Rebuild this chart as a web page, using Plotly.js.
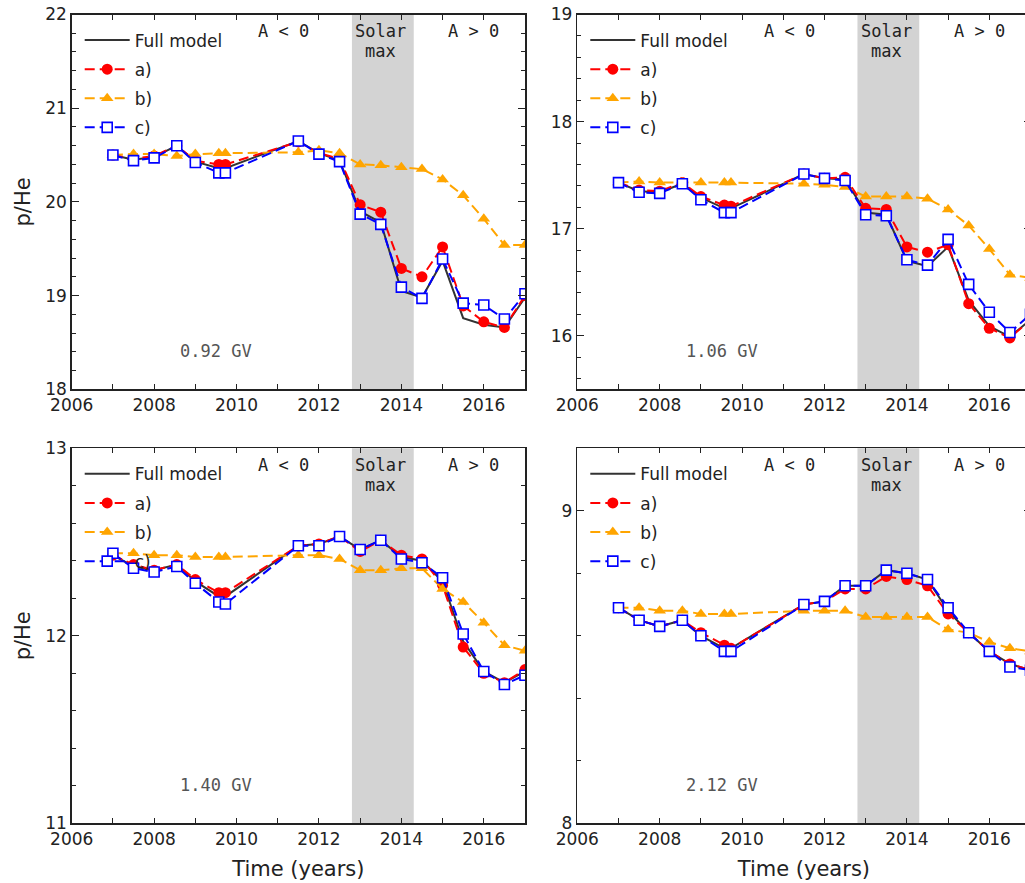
<!DOCTYPE html>
<html><head><meta charset="utf-8">
<script src="https://cdn.plot.ly/plotly-3.0.1.min.js"></script>
<style>html,body{margin:0;padding:0;overflow:hidden;background:#fff;width:1025px;height:883px}#chart{width:1040px;height:883px}</style>
</head><body><div id="chart"></div>
<script>
// ---- data ----
const years = [2007, 2007.5, 2008, 2008.55, 2009, 2009.57, 2009.73, 2011.5, 2012, 2012.5, 2013, 2013.5, 2014, 2014.5, 2015, 2015.5, 2016, 2016.5, 2017];
const seriesNames = ["Full model", "a)", "b)", "c)"];
const rigidityLabels = ["0.92 GV", "1.06 GV", "1.40 GV", "2.12 GV"];

// 0.92 GV
const full1 = [20.50, 20.45, 20.48, 20.60, 20.43, 20.36, 20.36, 20.65, 20.52, 20.44, 19.90, 19.78, 19.05, 18.98, 19.37, 18.76, 18.69, 18.66, 18.98];
const a1    = [20.50, 20.46, 20.49, 20.60, 20.44, 20.40, 20.40, 20.64, 20.52, 20.46, 19.97, 19.89, 19.29, 19.20, 19.52, 18.89, 18.72, 18.66, 19.00];
const b1    = [20.50, 20.51, 20.51, 20.49, 20.51, 20.52, 20.52, 20.53, 20.55, 20.52, 20.40, 20.39, 20.37, 20.35, 20.24, 20.07, 19.82, 19.54, 19.54];
const c1    = [20.50, 20.44, 20.47, 20.60, 20.42, 20.31, 20.31, 20.65, 20.51, 20.43, 19.87, 19.76, 19.09, 18.97, 19.39, 18.92, 18.90, 18.75, 19.02];
// 1.06 GV
const full2 = [17.43, 17.35, 17.34, 17.42, 17.29, 17.19, 17.19, 17.51, 17.47, 17.46, 17.15, 17.13, 16.70, 16.65, 16.83, 16.33, 16.09, 15.99, 16.15];
const a2    = [17.43, 17.36, 17.35, 17.43, 17.30, 17.22, 17.21, 17.51, 17.47, 17.48, 17.19, 17.18, 16.83, 16.78, 16.85, 16.30, 16.07, 15.98, 16.15];
const b2    = [17.43, 17.44, 17.43, 17.43, 17.43, 17.43, 17.43, 17.42, 17.41, 17.39, 17.30, 17.30, 17.30, 17.28, 17.18, 17.03, 16.81, 16.57, 16.54];
const c2    = [17.43, 17.34, 17.33, 17.42, 17.27, 17.15, 17.15, 17.51, 17.47, 17.45, 17.13, 17.12, 16.71, 16.66, 16.90, 16.48, 16.22, 16.03, 16.20];
// 1.40 GV
const full3 = [12.43, 12.37, 12.35, 12.38, 12.29, 12.21, 12.21, 12.48, 12.49, 12.53, 12.46, 12.51, 12.42, 12.40, 12.29, 11.97, 11.81, 11.75, 11.81];
const a3    = [12.43, 12.38, 12.35, 12.38, 12.30, 12.23, 12.23, 12.48, 12.49, 12.53, 12.45, 12.51, 12.43, 12.41, 12.27, 11.94, 11.80, 11.75, 11.82];
const b3    = [12.44, 12.44, 12.43, 12.43, 12.42, 12.42, 12.42, 12.43, 12.43, 12.41, 12.35, 12.35, 12.36, 12.36, 12.25, 12.18, 12.07, 11.95, 11.92];
const c3    = [12.44, 12.36, 12.34, 12.37, 12.28, 12.18, 12.17, 12.48, 12.48, 12.53, 12.46, 12.51, 12.41, 12.39, 12.31, 12.01, 11.81, 11.74, 11.79];
// 2.12 GV
const full4 = [8.69, 8.65, 8.63, 8.65, 8.60, 8.56, 8.56, 8.70, 8.71, 8.76, 8.76, 8.81, 8.80, 8.78, 8.68, 8.61, 8.55, 8.51, 8.49];
const a4    = [8.69, 8.65, 8.63, 8.65, 8.61, 8.57, 8.56, 8.70, 8.71, 8.75, 8.75, 8.79, 8.78, 8.76, 8.67, 8.61, 8.55, 8.51, 8.49];
const b4    = [8.69, 8.69, 8.68, 8.68, 8.67, 8.67, 8.67, 8.68, 8.68, 8.68, 8.66, 8.66, 8.66, 8.66, 8.62, 8.61, 8.58, 8.56, 8.55];
const c4    = [8.69, 8.65, 8.63, 8.65, 8.60, 8.55, 8.55, 8.70, 8.71, 8.76, 8.76, 8.81, 8.80, 8.78, 8.69, 8.61, 8.55, 8.50, 8.49];

const panelData = [[full1, a1, b1, c1], [full2, a2, b2, c2], [full3, a3, b3, c3], [full4, a4, b4, c4]];
const yRanges = [[18, 22], [15.5, 19], [11, 13], [8, 9.2]];
const solarMax = [2012.8, 2014.3];

// ---- layout geometry (pixels) ----
const W = 1040, H = 883;
const colX = [[71.7, 525], [577.3, 1030.5]];
const rowY = [[14.5, 389.3], [448.3, 823.3]];

const dashPat = '10px,5px';
const styles = [
  {mode: 'lines', line: {color: '#333333', width: 2}},
  {mode: 'lines+markers', line: {color: '#ff0000', width: 2, dash: dashPat}, marker: {symbol: 'circle', size: 11, color: '#ff0000'}},
  {mode: 'lines+markers', line: {color: '#ffa500', width: 2, dash: dashPat}, marker: {symbol: 'triangle-up', size: 11, color: '#ffa500'}},
  {mode: 'lines+markers', line: {color: '#0000ff', width: 2, dash: dashPat}, marker: {symbol: 'square', size: 10, color: '#ffffff', line: {color: '#0000ff', width: 1.6}}}
];

const traces = [];
const layout = {
  width: W, height: H, margin: {l: 0, r: 0, t: 0, b: 0},
  paper_bgcolor: '#ffffff', plot_bgcolor: 'rgba(0,0,0,0)',
  font: {family: 'DejaVu Sans', size: 17, color: '#222'},
  showlegend: true, shapes: [], annotations: []
};

for (let p = 0; p < 4; p++) {
  const col = p % 2, row = Math.floor(p / 2);
  const sfx = p === 0 ? '' : String(p + 1);
  const xa = 'x' + sfx, ya = 'y' + sfx;
  const legName = p === 0 ? 'legend' : 'legend' + (p + 1);
  for (let s = 0; s < 4; s++) {
    const st = styles[s];
    traces.push(Object.assign({
      type: 'scatter', x: years, y: panelData[p][s], name: seriesNames[s],
      xaxis: xa, yaxis: ya, legend: legName, legendgroup: 'g' + p + s,
      hoverinfo: 'skip'
    }, JSON.parse(JSON.stringify(st))));
  }
  const xdom = [colX[col][0] / W, colX[col][1] / W];
  const ydom = [1 - rowY[row][1] / H, 1 - rowY[row][0] / H];
  layout['xaxis' + sfx] = {
    domain: xdom, anchor: ya, range: [2006, 2017], tick0: 2006, dtick: 2,
    ticks: 'inside', ticklen: 5, tickwidth: 1, tickcolor: '#222',
    minor: {dtick: 1, ticks: 'inside', ticklen: 5, tickwidth: 1, tickcolor: '#222'},
    showline: true, linecolor: '#222', linewidth: 1.5, mirror: 'allticks',
    showgrid: false, zeroline: false, tickfont: {size: 17, color: '#222'},
    title: row === 1 ? {text: 'Time (years)', font: {size: 21}, standoff: 13} : {text: ''}
  };
  layout['yaxis' + sfx] = {
    domain: ydom, anchor: xa, range: yRanges[p], dtick: 1, tick0: 0,
    ticks: 'inside', ticklen: 7, tickwidth: 1, tickcolor: '#222',
    minor: {dtick: 0.2, ticks: 'inside', ticklen: 4, tickwidth: 1, tickcolor: '#222'},
    showline: true, linecolor: '#222', linewidth: 1.5, mirror: 'allticks',
    showgrid: false, zeroline: false, tickfont: {size: 17, color: '#222'},
    title: col === 0 ? {text: 'p/He', font: {size: 21}, standoff: 9} : {text: ''}
  };
  layout[legName] = {
    x: (colX[col][0] + 8) / W, y: 1 - (rowY[row][0] + 8) / H,
    xanchor: 'left', yanchor: 'top', bgcolor: 'rgba(0,0,0,0)',
    font: {size: 17, color: '#222'}, tracegroupgap: 4, itemwidth: 45
  };
  layout.shapes.push({type: 'rect', xref: xa, yref: ya + ' domain', x0: solarMax[0], x1: solarMax[1], y0: 0, y1: 1,
    fillcolor: '#d3d3d3', line: {width: 0}, layer: 'below'});
  const mono = {family: 'DejaVu Sans Mono', size: 17, color: '#222'};
  const ann = (x, yPx, text, font) => ({xref: xa, yref: ya + ' domain', x: x, y: 1 - yPx / 375,
    yanchor: 'middle', xanchor: 'center', text: text, showarrow: false, font: font});
  layout.annotations.push(
    ann(2011.15, 17, 'A &lt; 0', mono),
    ann(2013.5, 17, 'Solar', mono),
    ann(2013.5, 37, 'max', mono),
    ann(2015.75, 17, 'A &gt; 0', mono),
    ann(2009.5, 336.5, rigidityLabels[p], {family: 'DejaVu Sans Mono', size: 17, color: '#555'})
  );
}

Plotly.newPlot('chart', traces, layout, {staticPlot: true});
</script></body></html>
